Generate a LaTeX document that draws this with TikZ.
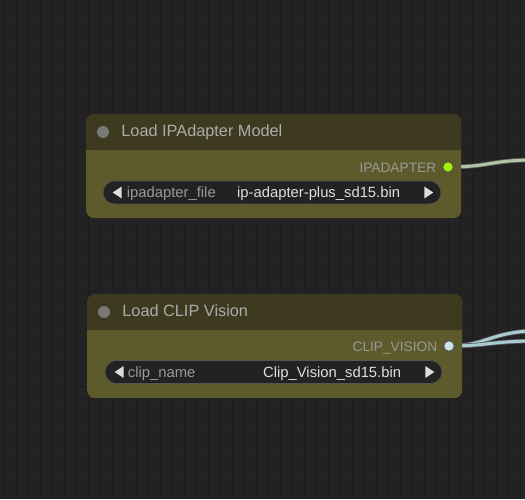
\documentclass[tikz,border=0pt]{standalone}
\usepackage{fontspec}
\setmainfont{Liberation Sans}
\usepackage{tikz}
\usetikzlibrary{arrows,positioning}

\definecolor{canvas}{HTML}{232323}
\definecolor{gridcol}{HTML}{1D1D1D}
\definecolor{titlebar}{HTML}{3E3A1F}
\definecolor{bodyfill}{HTML}{5D5A2B}
\definecolor{pillfill}{HTML}{222222}
\definecolor{pillline}{HTML}{555555}
\definecolor{ipagreen}{HTML}{A6F00A}
\definecolor{clipblue}{HTML}{C8E2EA}
\definecolor{ipawire}{HTML}{B4C4A6}
\definecolor{clipwire}{HTML}{A8CCD4}

\begin{document}
\begin{tikzpicture}[x=1pt,y=-1pt]
    \tikzstyle{grid line}=[draw=gridcol, line width=0.8pt]
    \tikzstyle{body box}=[rectangle, fill=bodyfill, rounded corners=8pt, minimum width=375pt, minimum height=104pt, inner sep=0pt]
    \tikzstyle{title box}=[body box, fill=titlebar, minimum height=36pt]
    \tikzstyle{title dot}=[circle, fill=black!53, minimum size=12pt, inner sep=0pt]
    \tikzstyle{title text}=[text=black!33, inner sep=0pt, text height=0.72em, text depth=0pt, font=\fontsize{16.3}{18}\selectfont]
    \tikzstyle{socket}=[circle, draw=black!70, line width=0.8pt, minimum size=10.5pt, inner sep=0pt]
    \tikzstyle{out text}=[text=black!40, inner sep=0pt, text height=0.72em, text depth=0pt, font=\fontsize{13.7}{15}\selectfont]
    \tikzstyle{widget}=[rectangle, fill=pillfill, draw=pillline, line width=0.6pt, rounded corners=11.5pt, minimum height=23pt, inner sep=0pt]
    \tikzstyle{widget arrow}=[fill=black!13]
    \tikzstyle{widget label}=[text=black!40, inner sep=0pt, text height=0.72em, text depth=0pt, font=\fontsize{14.8}{16}\selectfont]
    \tikzstyle{widget value}=[widget label, text=black!13]
    \tikzstyle{wire}=[draw=black!65, line width=0.8pt, double distance=3pt, line cap=round]

    % Background and grid
    \useasboundingbox (0,0) rectangle (525,499);
    \fill[canvas] (0,0) rectangle (525,499);
    \foreach \x in {4,16,...,520}
        \draw[grid line] (\x,0) -- (\x,499);
    \foreach \y in {2,14,...,494}
        \draw[grid line] (0,\y) -- (525,\y);

    % Sockets and loose wire ends
    \node[socket, fill=ipagreen] (ipa out) at (448,167) {};
    \node[socket, fill=clipblue] (clip out) at (449,346) {};
    \coordinate (ipa end) at (528,160);
    \coordinate (clip end a) at (528,331);
    \coordinate (clip end b) at (528,341);

    % Draw the wires first, the nodes hide their start
    \draw[wire, double=ipawire] (ipa out.center) .. controls +(40,0) and +(-40,1) .. (ipa end);
    \draw[wire, double=clipwire] (clip out.center) .. controls +(35,0) and +(-40,3) .. (clip end a);
    \draw[wire, double=clipwire] (clip out.center) .. controls +(35,0) and +(-40,1) .. (clip end b);

    % Draw the Load IPAdapter Model node
    \node[body box, anchor=north west] (ipa) at (86,114) {};
    \node[title box, anchor=north west] (ipa title) at (86,114) {};
    \fill[titlebar] ([yshift=10pt]ipa title.south west) rectangle (ipa title.south east);
    \node[title dot] (ipa dot) at (103,132) {};
    \node[title text, right=12pt of ipa dot, yshift=-1pt] (ipa name) {Load IPAdapter Model};
    \node[socket, fill=ipagreen] at (ipa out) {};
    \node[out text, left=6pt of ipa out, yshift=-2pt] (ipa out label) {IPADAPTER};
    \node[widget, minimum width=338pt] (ipa file) at (272,192.5) {};
    \fill[widget arrow] ([xshift=10pt]ipa file.west) -- ++(9,-6) -- ++(0,12) -- cycle;
    \fill[widget arrow] ([xshift=-8pt]ipa file.east) -- ++(-9,-6) -- ++(0,12) -- cycle;
    \node[widget label, anchor=west] (ipa file label) at ([xshift=24pt,yshift=-1.5pt]ipa file.west) {ipadapter\_file};
    \node[widget value, anchor=east] (ipa file value) at ([xshift=-41pt,yshift=-1.5pt]ipa file.east) {ip-adapter-plus\_sd15.bin};

    % Draw the Load CLIP Vision node
    \node[body box, anchor=north west] (clip) at (87,294) {};
    \node[title box, anchor=north west] (clip title) at (87,294) {};
    \fill[titlebar] ([yshift=10pt]clip title.south west) rectangle (clip title.south east);
    \node[title dot] (clip dot) at (104,312) {};
    \node[title text, right=12pt of clip dot, yshift=-1pt] (clip name) {Load CLIP Vision};
    \node[socket, fill=clipblue] at (clip out) {};
    \node[out text, left=6pt of clip out, yshift=-2pt] (clip out label) {CLIP\_VISION};
    \node[widget, minimum width=337pt] (clip file) at (273.5,372) {};
    \fill[widget arrow] ([xshift=10pt]clip file.west) -- ++(9,-6) -- ++(0,12) -- cycle;
    \fill[widget arrow] ([xshift=-8pt]clip file.east) -- ++(-9,-6) -- ++(0,12) -- cycle;
    \node[widget label, anchor=west] (clip file label) at ([xshift=23pt,yshift=-1.5pt]clip file.west) {clip\_name};
    \node[widget value, anchor=east] (clip file value) at ([xshift=-41pt,yshift=-1.5pt]clip file.east) {Clip\_Vision\_sd15.bin};

\end{tikzpicture}
\end{document}
